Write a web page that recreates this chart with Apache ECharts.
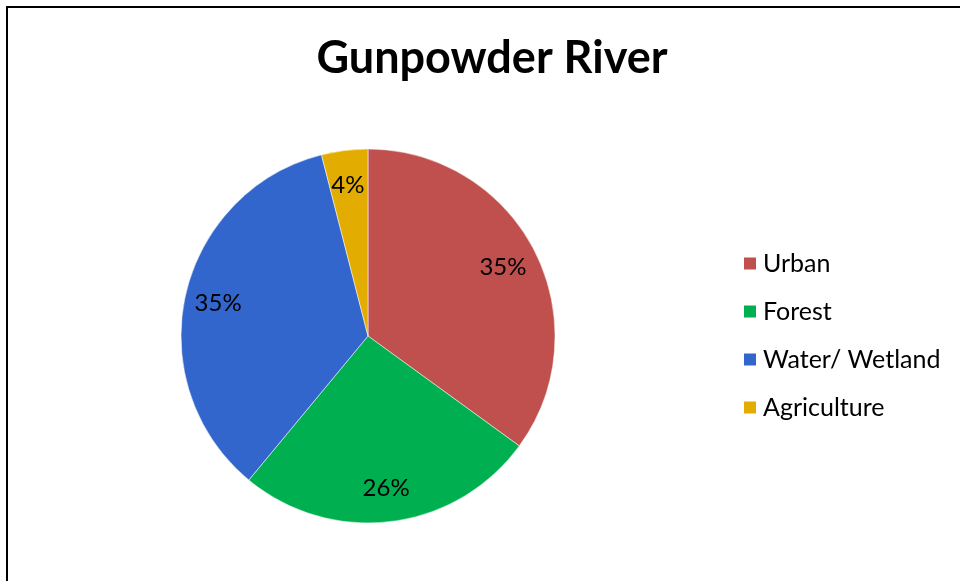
<!DOCTYPE html>
<html>
<head>
<meta charset="utf-8">
<script src="https://cdn.jsdelivr.net/npm/echarts@6/dist/echarts.min.js"></script>
<style>
  html, body { margin: 0; padding: 0; background: #fff; }
  #chart { width: 960px; height: 581px; }
</style>
</head>
<body>
<div id="chart"></div>
<script>
// Land use shares for the Gunpowder River watershed (percent)
const categories = ['Urban', 'Forest', 'Water/ Wetland', 'Agriculture'];
const shares = [35, 26, 35, 4];
const colors = ['#C0504D', '#00B050', '#3366CC', '#E2AC00'];

const FONT = 'Lato, "Open Sans", sans-serif';
const chart = echarts.init(document.getElementById('chart'));

const pieData = categories.map((name, i) => ({
  name: name,
  value: shares[i],
  itemStyle: { color: colors[i] }
}));

const center = [368, 336];
const R = 187;

chart.setOption({
  animation: false,
  title: {
    text: 'Gunpowder River',
    left: 487, top: 31,
    textAlign: 'center',
    textStyle: { fontFamily: FONT, fontWeight: 'bold', fontSize: 45, color: '#000' }
  },
  legend: {
    orient: 'vertical',
    left: 737, top: 246,
    itemWidth: 14, itemHeight: 14, itemGap: 23,
    icon: 'rect',
    data: categories,
    textStyle: { fontFamily: FONT, fontSize: 25, lineHeight: 25, color: '#000', padding: [0, 0, 0, 1] }
  },
  graphic: [
    { type: 'polyline', shape: { points: [[7, 581], [7, 7], [960, 7]] },
      style: { stroke: '#000', lineWidth: 2, fill: null } }
  ],
  series: [
    {
      type: 'pie',
      center: center,
      radius: [0, R],
      startAngle: 90,
      clockwise: true,
      data: pieData,
      label: { show: false },
      labelLine: { show: false },
      itemStyle: { borderColor: '#fff', borderWidth: 0.5 },
      emphasis: { disabled: true }
    },
    {
      // transparent ring that carries the percentage labels at ~0.8 R
      type: 'pie',
      center: center,
      radius: [R * 0.6, R],
      startAngle: 90,
      clockwise: true,
      silent: true,
      legendHoverLink: false,
      data: pieData.map(d => ({ name: d.name, value: d.value, itemStyle: { color: 'transparent' } })),
      label: {
        show: true,
        position: 'inside',
        formatter: p => p.value + '%',
        fontFamily: FONT, fontSize: 24, color: '#000',
        offset: [-1, 1]
      },
      labelLine: { show: false },
      emphasis: { disabled: true }
    }
  ]
});
</script>
</body>
</html>
